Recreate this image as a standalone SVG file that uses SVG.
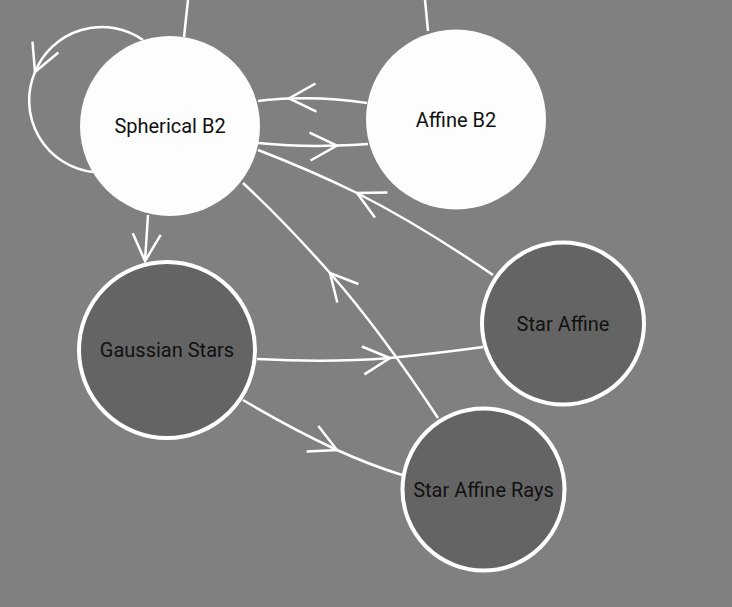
<svg xmlns="http://www.w3.org/2000/svg" width="732" height="607" viewBox="0 0 732 607">
  <defs>
    <marker id="arr" markerUnits="userSpaceOnUse" markerWidth="40" markerHeight="40" viewBox="-35 -20 40 40" refX="0" refY="0" orient="auto" overflow="visible">
      <path d="M-27,-14 L0,0 L-27,14" fill="none" stroke="#fff" stroke-width="2.5"/>
    </marker>
    <style>
      .edge { fill: none; stroke: #fff; stroke-width: 2.5; }
      .mid { marker-mid: url(#arr); }
      .end { marker-end: url(#arr); }
      .light { fill: #fdfdfd; }
      .dark { fill: #646464; stroke: #fff; stroke-width: 4; }
      .label { font-family: Roboto, "Liberation Sans", sans-serif; font-size: 20px; fill: #111; text-anchor: middle; }
    </style>
  </defs>
  <rect x="0" y="0" width="732" height="607" fill="#808080"/>
  <g id="connectors">
    <path class="edge" d="M188,0 L184,37"/>
    <path class="edge" d="M425,0 L428,31"/>
    <path class="edge mid" d="M143,40 A72,72 0 0 0 35,72 A72,72 0 0 0 93,172"/>
    <path class="edge mid" d="M367,103 Q330,97 289,98.5 Q275,99 258,101"/>
    <path class="edge mid" d="M258,143 Q300,147 337,145.5 Q352,145 368,144"/>
    <path class="edge mid" d="M493,275 Q420,225 357,193 Q310,170 258,150"/>
    <path class="edge mid" d="M438,418 Q380,330 330,273 Q285,222 243,183"/>
    <path class="edge end" d="M148,215 L146.5,238 L145,261"/>
    <path class="edge mid" d="M257,359 Q330,363 390,358 Q440,353 483,347"/>
    <path class="edge mid" d="M243,400 Q290,428 337,450 Q370,465 402,475"/>
  </g>
  <g id="spherical-b2">
    <circle class="light" cx="170" cy="126" r="90"/>
    <text class="label" x="170" y="133">Spherical B2</text>
  </g>
  <g id="affine-b2">
    <circle class="light" cx="456" cy="119.5" r="90"/>
    <text class="label" x="456" y="127">Affine B2</text>
  </g>
  <g id="gaussian-stars">
    <circle class="dark" cx="167" cy="350" r="88"/>
    <text class="label" x="167" y="357">Gaussian Stars</text>
  </g>
  <g id="star-affine">
    <circle class="dark" cx="563" cy="323.5" r="81"/>
    <text class="label" x="563" y="330.5">Star Affine</text>
  </g>
  <g id="star-affine-rays">
    <circle class="dark" cx="483.5" cy="489.5" r="81"/>
    <text class="label" x="483.5" y="496.5">Star Affine Rays</text>
  </g>
</svg>
